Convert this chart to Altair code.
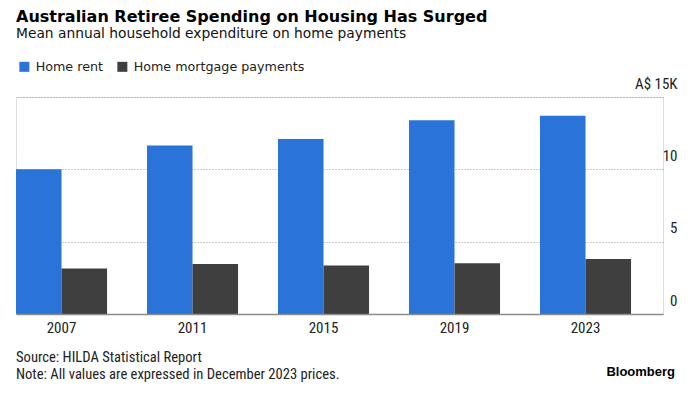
import altair as alt
import pandas as pd

years = ["2007", "2011", "2015", "2019", "2023"]
home_rent = [10.0, 11.65, 12.1, 13.4, 13.7]
home_mortgage = [3.15, 3.45, 3.35, 3.5, 3.8]
series = ["Home rent", "Home mortgage payments"]
colors = ["#2a73d9", "#3f3f3f"]

title_text = "Australian Retiree Spending on Housing Has Surged"
subtitle_text = "Mean annual household expenditure on home payments"
source_text = "Source: HILDA Statistical Report"
note_text = "Note: All values are expressed in December 2023 prices."
brand_text = "Bloomberg"

rows = []
for y, r, m in zip(years, home_rent, home_mortgage):
    rows.append({"year": y, "series": series[0], "value": r})
    rows.append({"year": y, "series": series[1], "value": m})
df = pd.DataFrame(rows)

NARROW = "Liberation Sans Narrow, Roboto Condensed, Arial Narrow, Roboto, sans-serif"
SANS = "DejaVu Sans, Verdana, sans-serif"

bars = alt.Chart(df).mark_bar().encode(
    x=alt.X("year:N", sort=years, title=None,
            scale=alt.Scale(paddingInner=0.305, paddingOuter=0.122, align=0),
            axis=alt.Axis(labelAngle=0, ticks=False, domain=True, domainColor="#8c8c8c",
                          domainWidth=1.5, labelFont=NARROW, labelFontSize=15,
                          labelColor="#222222", labelPadding=6, grid=False, zindex=2)),
    xOffset=alt.XOffset("series:N", sort=series,
                        scale=alt.Scale(paddingInner=0, paddingOuter=0)),
    y=alt.Y("value:Q", title=None,
            scale=alt.Scale(domain=[0, 15], nice=False),
            axis=alt.Axis(orient="right", values=[0, 5, 10, 15], domain=False, ticks=False,
                          grid=True, gridColor="#9a9a9a", gridDash=[1, 2], gridWidth=1,
                          labelFont=NARROW, labelFontSize=15, labelColor="#222222",
                          labelAlign="right", labelPadding=14, labelBaseline="alphabetic",
                          labelOffset=-9,
                          labelExpr="datum.value == 15 ? 'A$ 15K' : datum.label")),
    color=alt.Color("series:N", sort=series,
                    scale=alt.Scale(domain=series, range=colors),
                    legend=alt.Legend(title=None, orient="none", legendX=2, legendY=-37,
                                      direction="horizontal", symbolType="square",
                                      symbolSize=100, symbolStrokeWidth=0,
                                      labelFont=SANS, labelFontSize=12.7, labelColor="#222222",
                                      labelOffset=5, columnPadding=13, labelLimit=400)),
)

def txt(s, x, y, font, size, weight="normal", align="left", color="#000000"):
    return alt.Chart(pd.DataFrame({"t": [s]})).mark_text(
        font=font, fontSize=size, fontWeight=weight, align=align,
        baseline="alphabetic", color=color
    ).encode(text="t:N", x=alt.value(x), y=alt.value(y))

layers = [
    bars,
    txt(title_text, 0, -75, SANS, 16, "bold"),
    txt(subtitle_text, 0, -59.5, SANS, 13.8, color="#111111"),
    txt(source_text, 0, 265, NARROW, 14.6, color="#222222"),
    txt(note_text, 0, 282, NARROW, 14.6, color="#222222"),
    txt(brand_text, 659, 279, "Liberation Sans, Arial, sans-serif", 13, "bold", "right"),
]

chart = alt.layer(*layers).properties(
    width=647, height=217,
    padding={"left": 8, "top": 89, "right": 29, "bottom": 72},
    autosize=alt.AutoSizeParams(type="none"),
).configure_view(stroke=None).configure(background="white")

chart.save("out.html", embed_options={"renderer": "svg", "actions": False})
